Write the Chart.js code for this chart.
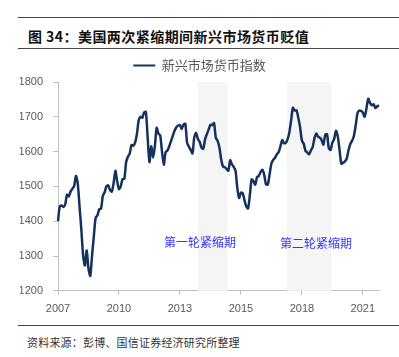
<!DOCTYPE html>
<html><head><meta charset="utf-8">
<script src="https://cdn.jsdelivr.net/npm/chart.js@4"></script>
<style>
html,body{margin:0;padding:0;background:#fff;}
#wrap{position:relative;width:399px;height:357px;overflow:hidden;font-family:"Noto Sans CJK SC",sans-serif;}
.rule{position:absolute;left:18px;right:0;height:0;border-top:1.5px solid #444;}
#title{position:absolute;left:28px;top:26px;font-size:14px;font-weight:bold;color:#111;line-height:20px;white-space:nowrap;letter-spacing:0.45px;}
#src{position:absolute;left:27px;top:334px;font-size:11px;color:#333;line-height:16px;white-space:nowrap;letter-spacing:0.2px;}
#box{position:absolute;left:0;top:52px;width:399px;height:272px;}
</style></head>
<body><div id="wrap">
<div class="rule" style="top:17px"></div>
<div id="title">图 34：美国两次紧缩期间新兴市场货币贬值</div>
<div class="rule" style="top:48px"></div>
<div id="box"><canvas id="c"></canvas></div>
<div class="rule" style="top:325px"></div>
<div id="src">资料来源：彭博、国信证券经济研究所整理</div>
</div>
<script>
// ---- data ----
const seriesName = '新兴市场货币指数';
const startYear = 2007, startMonth = 6; // first observation
const emIndex = [
1400,1443,1445,1441,1448,1476,1471,1485,1493,1501,1530,1509,1443,1377,1302,1273,1316,1264,1243,1302,1358,1410,1417,1434,1436,1473,1483,1500,1503,1490,1485,1509,1545,
1515,1492,1500,1521,1522,1570,1585,1595,1619,1617,1626,1650,1690,1700,1697,1712,1714,1640,1570,1615,1583,1615,1668,1652,1646,1600,1562,1598,1603,1615,1630,
1645,1660,1670,1675,1676,1665,1678,1680,1625,1614,1605,1595,1641,1654,1636,1628,1612,1608,1635,1650,1663,1677,1676,1682,1640,1631,1612,1578,1557,1555,1550,1545,
1575,1563,1556,1545,1495,1467,1482,1480,1460,1442,1437,1476,1520,1515,1505,1527,1530,1542,1548,1533,1506,1505,1535,1565,1576,1582,1592,1598,1614,1633,1624,1625,1635,
1655,1690,1726,1718,1719,1697,1670,1632,1623,1602,1598,1592,1603,1613,1638,1652,1643,1640,1633,1620,1648,1650,1610,1605,1626,1636,1660,1644,1605,1565,1568,1572,
1580,1604,1622,1631,1645,1675,1710,1718,1717,1712,1700,1724,1752,1740,1733,1736,1725,1730,1733
];
const tickLabels = ['2007','2010','2013','2015','2018','2021'];
const tickEvery = 34;
const shadeStart = [78, 127.6];
const shadeEnd = [94.6, 152.3];
const shadeText = ['第一轮紧缩期','第二轮紧缩期'];
const shadeTextX = [79.2, 143.8];
const shadeTextY = [1340, 1337];

const categories = emIndex.map((_, i) => {
  const t = startMonth - 1 + i;
  const y = startYear + Math.floor(t / 12), m = t % 12 + 1;
  return y + '-' + String(m).padStart(2, '0');
});

const shadePlugin = {
  id: 'shade',
  beforeDatasetsDraw(chart) {
    const {ctx, chartArea, scales:{x}} = chart;
    ctx.save();
    ctx.fillStyle = '#f5f5f5';
    for (let i = 0; i < shadeStart.length; i++) {
      const a = x.getPixelForValue(shadeStart[i]), b = x.getPixelForValue(shadeEnd[i]);
      ctx.fillRect(a, chartArea.top, b - a, chartArea.bottom - chartArea.top);
    }
    ctx.restore();
  },
  afterDatasetsDraw(chart) {
    const {ctx, scales:{x, y}} = chart;
    ctx.save();
    ctx.fillStyle = '#3535ff';
    ctx.font = '12px "Noto Sans CJK SC"';
    ctx.textAlign = 'center';
    ctx.textBaseline = 'middle';
    for (let i = 0; i < shadeText.length; i++) {
      ctx.fillText(shadeText[i], x.getPixelForValue(shadeTextX[i]), y.getPixelForValue(shadeTextY[i]));
    }
    ctx.restore();
  }
};

new Chart(document.getElementById('c'), {
  type: 'line',
  data: {
    labels: categories,
    datasets: [{
      label: seriesName,
      data: emIndex,
      borderColor: '#14325c',
      backgroundColor: '#14325c',
      borderWidth: 2.5,
      pointRadius: 0,
      tension: 0.25,
      fill: false
    }]
  },
  options: {
    responsive: true,
    maintainAspectRatio: false,
    animation: false,
    layout: { padding: { left: 20, right: 20, top: 3, bottom: 0 } },
    plugins: {
      legend: {
        display: true,
        labels: {
          boxWidth: 22, boxHeight: 2, padding: 4,
          color: '#595959',
          font: { size: 13, family: '"Noto Sans CJK SC"' },
          generateLabels(chart) {
            const items = Chart.defaults.plugins.legend.labels.generateLabels(chart);
            items.forEach(it => { it.lineWidth = 0; it.strokeStyle = 'rgba(0,0,0,0)'; });
            return items;
          }
        }
      },
      tooltip: { enabled: false }
    },
    scales: {
      x: {
        type: 'category',
        offset: false,
        border: { display: true, color: '#bfbfbf', width: 1 },
        grid: { display: true, drawOnChartArea: false, drawTicks: true, tickLength: 4, color: '#bfbfbf' },
        ticks: {
          autoSkip: false, maxRotation: 0, minRotation: 0, padding: 8,
          color: '#595959',
          font: { size: 11, family: '"Liberation Sans", Arial' },
          callback: (v, i) => (i % tickEvery === 0 ? tickLabels[i / tickEvery] : null)
        }
      },
      y: {
        min: 1200, max: 1800,
        border: { display: true, color: '#bfbfbf', width: 1 },
        grid: { display: true, drawOnChartArea: false, drawTicks: true, tickLength: 5, color: '#bfbfbf' },
        ticks: {
          stepSize: 100, padding: 10,
          color: '#595959',
          font: { size: 11, family: '"Liberation Sans", Arial' },
          callback: v => String(v)
        },
        afterFit(scale) { scale.width = 38; }
      }
    }
  },
  plugins: [shadePlugin]
});
</script>
</body></html>
